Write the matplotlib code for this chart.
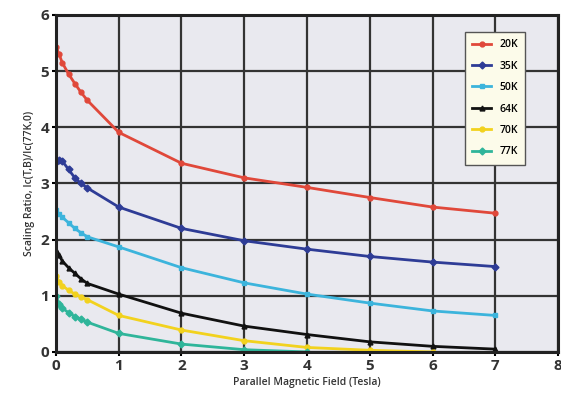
import numpy as np
import matplotlib
matplotlib.use("Agg")
import matplotlib.pyplot as plt

plt.rcParams['font.family'] = ['Open Sans', 'DejaVu Sans']

# field points (Tesla)
field = [0, 0.05, 0.1, 0.2, 0.3, 0.4, 0.5, 1, 2, 3, 4, 5, 6, 7]

r20 = [5.43, 5.30, 5.15, 4.95, 4.78, 4.62, 4.48, 3.91, 3.36, 3.10, 2.93, 2.75, 2.58, 2.47]
r35 = [3.38, 3.42, 3.40, 3.25, 3.10, 3.00, 2.92, 2.58, 2.20, 1.98, 1.83, 1.70, 1.60, 1.52]
r50 = [2.52, 2.45, 2.40, 2.30, 2.20, 2.12, 2.05, 1.87, 1.50, 1.23, 1.03, 0.87, 0.73, 0.65]
r64 = [1.82, 1.72, 1.62, 1.50, 1.40, 1.30, 1.22, 1.03, 0.69, 0.46, 0.31, 0.18, 0.10, 0.05]
r70 = [1.35, 1.25, 1.18, 1.10, 1.03, 0.98, 0.93, 0.65, 0.39, 0.20, 0.08, 0.03, 0.0]
r77 = [1.00, 0.85, 0.78, 0.70, 0.63, 0.58, 0.53, 0.33, 0.14, 0.04, 0.0]

series = [
    ('20K', r20, '#e0483a', 'o'),
    ('35K', r35, '#2e3c96', 'D'),
    ('50K', r50, '#3cb4dc', 's'),
    ('64K', r64, '#111111', '^'),
    ('70K', r70, '#f2d21e', 'o'),
    ('77K', r77, '#2fb59a', 'D'),
]

fig = plt.figure(figsize=(5.61, 4.05), dpi=100)
ax = fig.add_axes([0.0998, 0.131, 0.8949, 0.832])
ax.set_facecolor('#e9e9ef')

for name, vals, col, mk in series:
    ax.plot(field[:len(vals)], vals, color=col, lw=2, marker=mk, ms=3.5,
            label=name)

ax.set_xlim(0, 8)
ax.set_ylim(0, 6)
ax.set_xticks(range(0, 9))
ax.set_yticks(range(0, 7))
ax.grid(True, color='#333333', lw=1.6)
ax.set_axisbelow(True)
for s in ax.spines.values():
    s.set_linewidth(2.2)
    s.set_color('#222222')
ax.tick_params(length=3, width=1.5, labelsize=11, pad=2)
for lab in ax.get_xticklabels() + ax.get_yticklabels():
    lab.set_fontweight('bold')
    lab.set_color('#333333')

ax.set_xlabel('Parallel Magnetic Field (Tesla)', fontsize=7.5, color='#333333',
              fontweight='semibold', labelpad=3)
ax.set_ylabel('Scaling Ratio, Ic(T,B)/Ic(77K,0)', fontsize=7.5, color='#333333',
              fontweight='semibold', labelpad=4)

leg = ax.legend(loc='upper right', bbox_to_anchor=(0.945, 0.965),
                prop={'size': 7.5, 'weight': 'semibold'},
                handlelength=1.8, labelspacing=1.0, borderpad=0.7,
                fancybox=False, framealpha=1)
leg.get_frame().set_facecolor('#fcfbea')
leg.get_frame().set_edgecolor('#555555')

fig.savefig('out.png', dpi=100)
